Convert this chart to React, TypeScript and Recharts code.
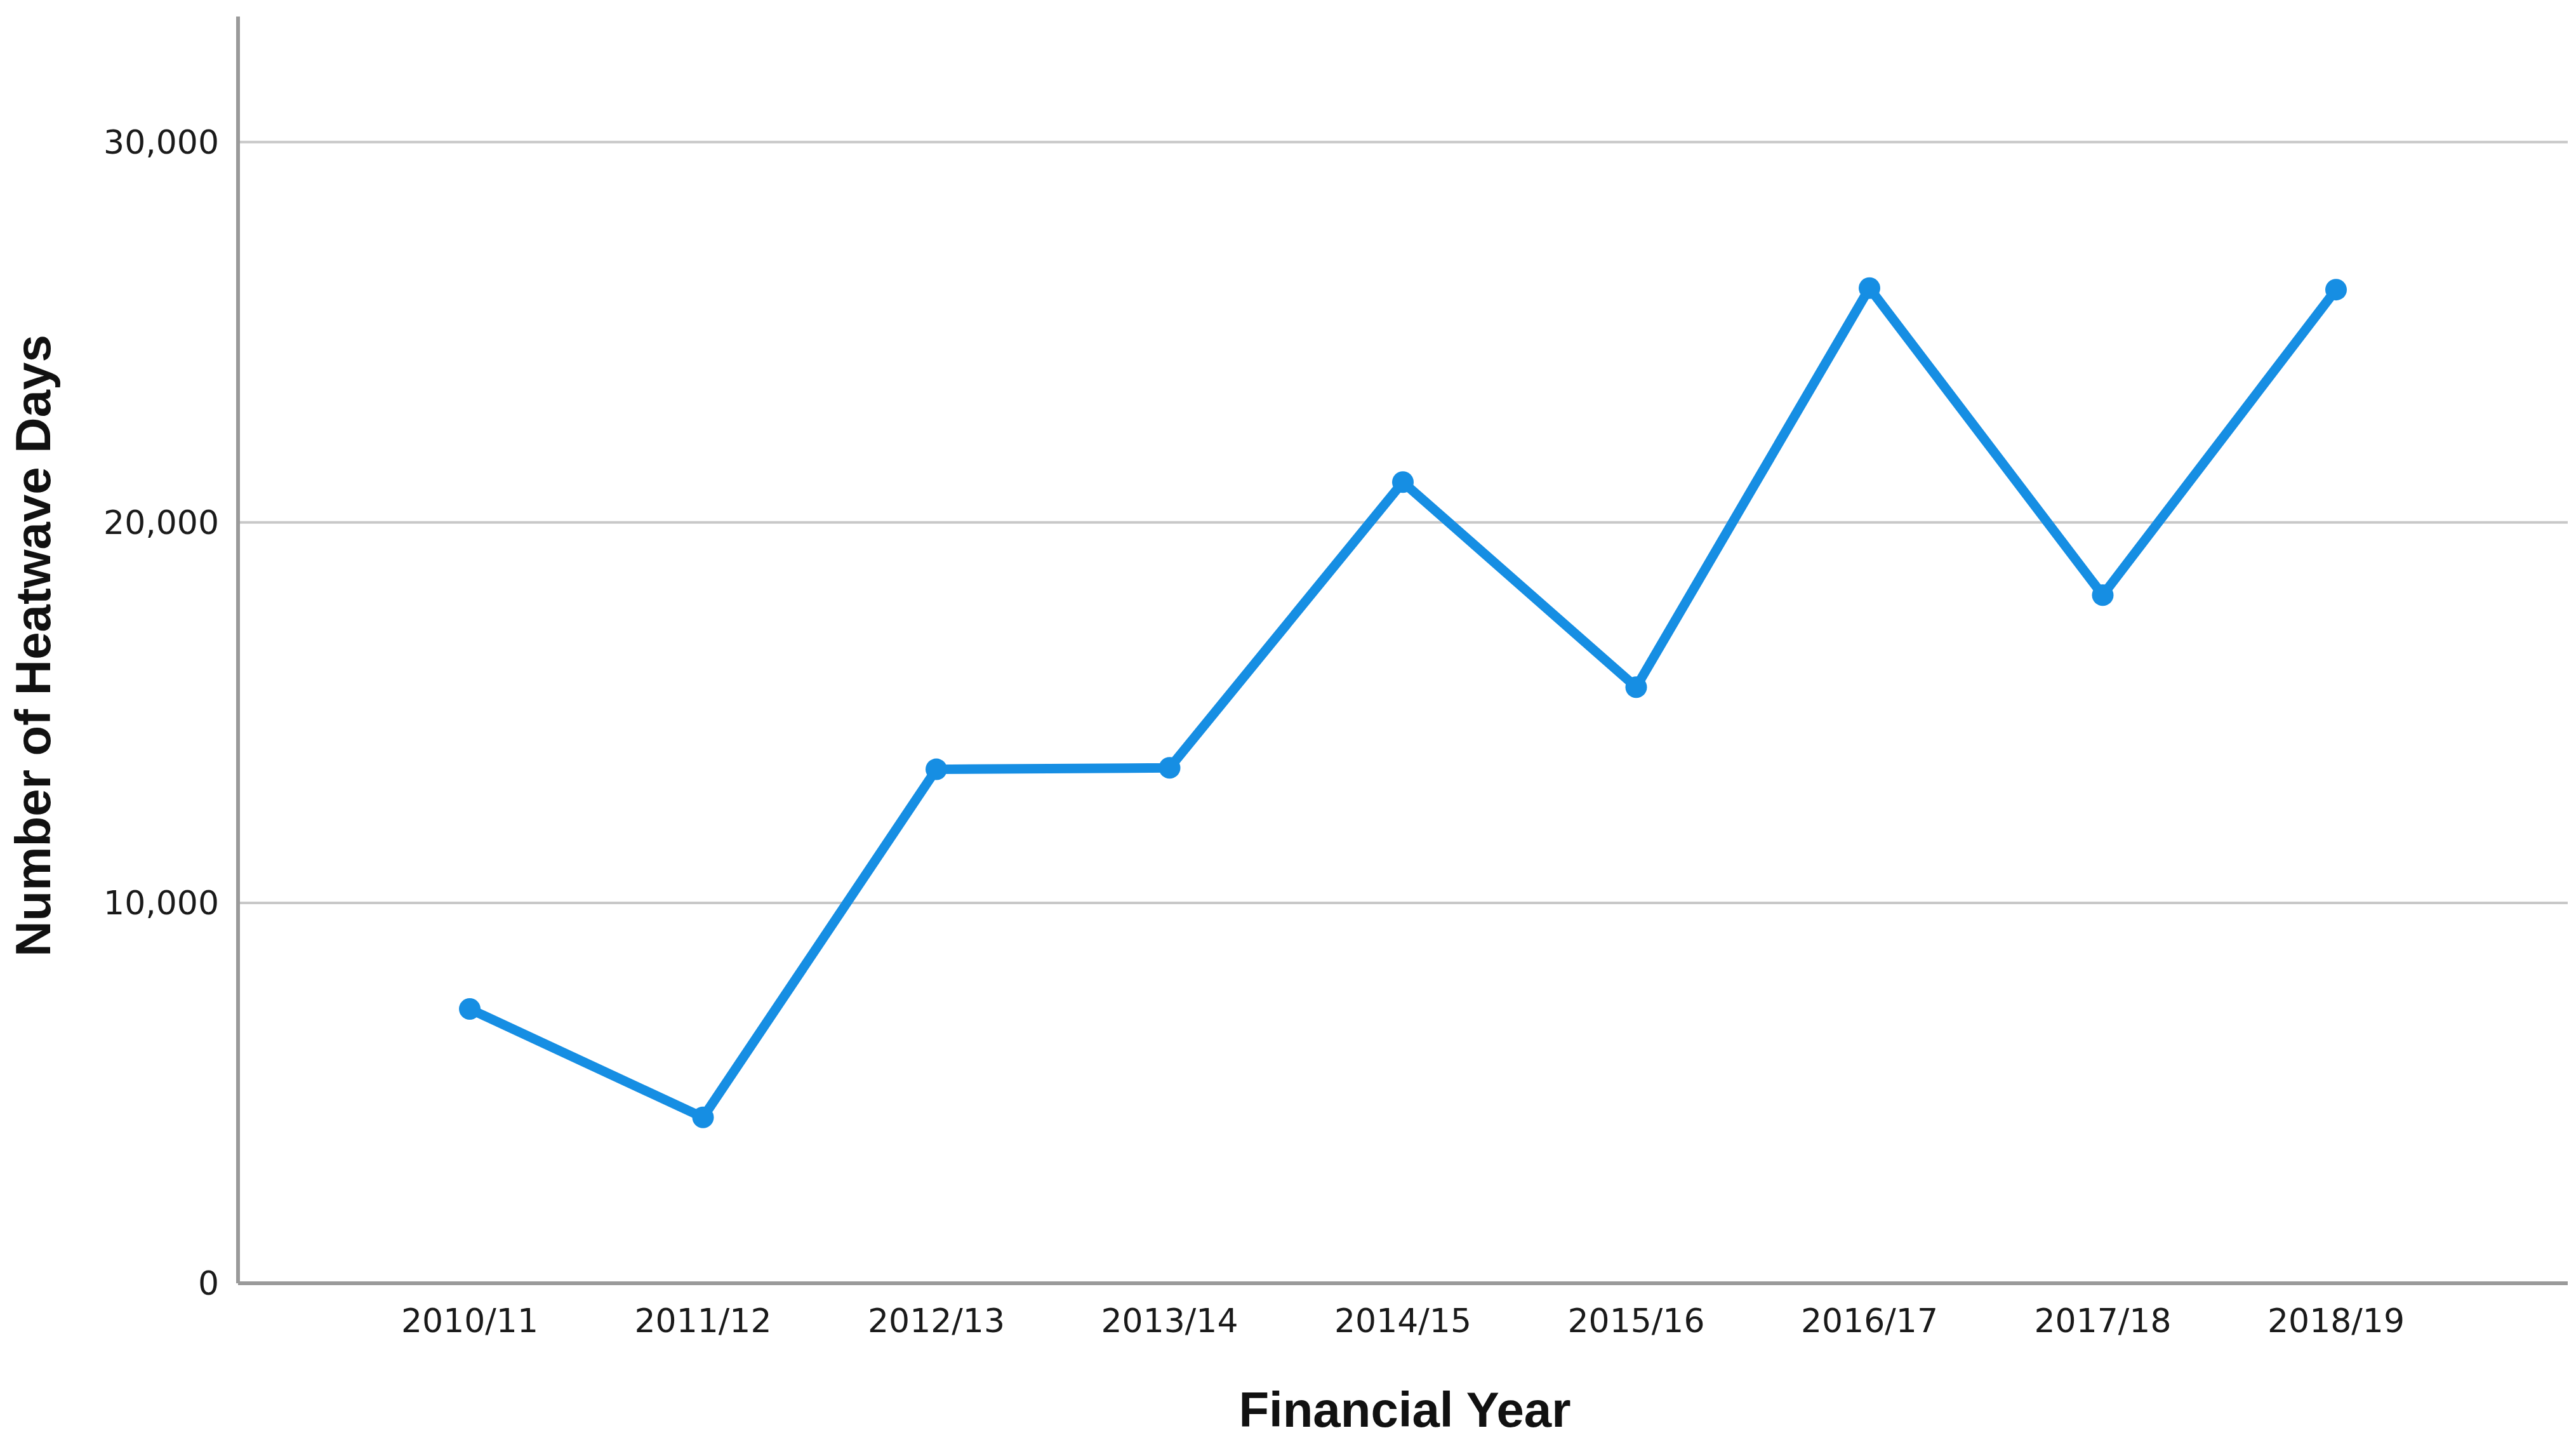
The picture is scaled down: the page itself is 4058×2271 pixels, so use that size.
import { LineChart, Line, XAxis, YAxis, ReferenceLine } from "recharts";

const years = [
  "2010/11",
  "2011/12",
  "2012/13",
  "2013/14",
  "2014/15",
  "2015/16",
  "2016/17",
  "2017/18",
  "2018/19",
];
const heatwaveDays = [7210, 4360, 13510, 13550, 21060, 15670, 26160, 18090, 26120];
const yTicks = [0, 10000, 20000, 30000];

const data = years.map((year, i) => ({ year, days: heatwaveDays[i] }));

const LINE_COLOR = "#168ee3";
const AXIS_COLOR = "#9a9a9a";
const TICK_FONT = { fontFamily: "DejaVu Sans", fontSize: 52, fill: "#1a1a1a" };

type Box = { x: number; y: number; width: number; height: number };

function YTitle({ viewBox }: { viewBox?: Box }) {
  if (!viewBox) return null;
  const cx = viewBox.x + 52;
  const cy = 1017;
  return (
    <text
      x={cx}
      y={cy}
      transform={`rotate(-90 ${cx} ${cy})`}
      textAnchor="middle"
      dominantBaseline="central"
      fontFamily="Liberation Sans"
      fontWeight="bold"
      fontSize={78}
      fill="#111"
    >
      Number of Heatwave Days
    </text>
  );
}

function XTitle({ viewBox }: { viewBox?: Box }) {
  if (!viewBox) return null;
  return (
    <text
      x={2213}
      y={viewBox.y + 199}
      textAnchor="middle"
      dominantBaseline="central"
      fontFamily="Liberation Sans"
      fontWeight="bold"
      fontSize={78}
      fill="#111"
    >
      Financial Year
    </text>
  );
}

export default function App() {
  return (
    <div style={{ position: "absolute", left: 0, top: 0, background: "#fff" }}>
      <LineChart
        width={4058}
        height={2271}
        data={data}
        margin={{ top: 26, right: 13, bottom: 0, left: 0 }}
      >
        {/* gridlines only at the labelled ticks */}
        {yTicks
          .filter((t) => t > 0)
          .map((t) => (
            <ReferenceLine key={t} y={t} stroke="#c8c8c8" strokeWidth={4} />
          ))}
        <XAxis
          dataKey="year"
          type="category"
          padding={{ left: 365, right: 365 }}
          height={250}
          stroke={AXIS_COLOR}
          strokeWidth={6}
          tickLine={false}
          tickSize={0}
          tickMargin={40}
          tick={TICK_FONT}
          interval={0}
          label={<XTitle />}
        />
        <YAxis
          domain={[0, 33300]}
          ticks={yTicks}
          width={375}
          stroke={AXIS_COLOR}
          strokeWidth={6}
          tickLine={false}
          tickSize={0}
          tickMargin={30}
          tick={TICK_FONT}
          tickFormatter={(v: number) => v.toLocaleString("en-US")}
          label={<YTitle />}
        />
        <Line
          type="linear"
          dataKey="days"
          stroke={LINE_COLOR}
          strokeWidth={15}
          dot={{ r: 17, fill: LINE_COLOR, stroke: "none" }}
          isAnimationActive={false}
        />
      </LineChart>
    </div>
  );
}
